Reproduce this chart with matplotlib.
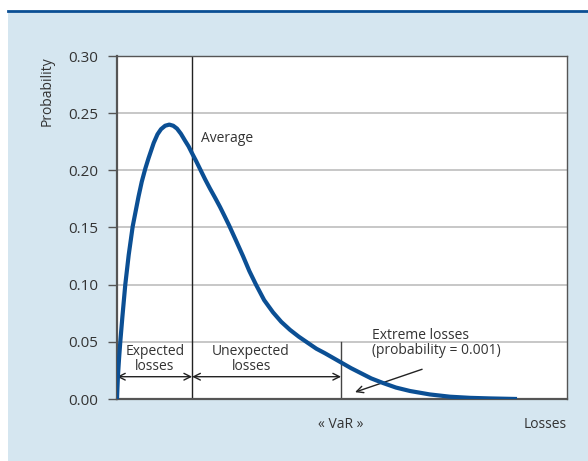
import matplotlib.pyplot as plt
from matplotlib.patches import Rectangle
from matplotlib.lines import Line2D

plt.rcParams['font.family'] = ['Open Sans', 'DejaVu Sans']

# loss distribution (x in arbitrary loss units)
losses = [0, 0.1, 0.22, 0.45, 0.73, 1.2, 1.84, 2.6, 3.49, 4.78, 5.5, 6.29, 7.0,
          8.16, 9.0, 9.78, 10.7, 11.62, 12.5, 13.33, 14.2, 15.11, 15.9, 16.67,
          17.6, 18.6, 19.6, 20.67, 21.8, 22.89, 23.9, 24.89, 26.4, 28.0, 29.4,
          30.89, 32.7, 34.67, 36.5, 38.44, 40.4, 42.44, 44.3, 46.22, 48.0, 49.78,
          52.0, 54.0, 56.5, 59.11, 62.0, 65.11, 69.5, 74.0, 78.5, 82.89, 88.89]
prob = [0, 0.010, 0.021, 0.035, 0.050, 0.072, 0.100, 0.126, 0.151, 0.177, 0.190, 0.2015, 0.2105,
        0.224, 0.2315, 0.236, 0.239, 0.240, 0.239, 0.2365, 0.232, 0.226, 0.221, 0.215,
        0.208, 0.200, 0.192, 0.184, 0.176, 0.168, 0.160, 0.152, 0.139, 0.125, 0.112,
        0.100, 0.0865, 0.0758, 0.0675, 0.0605, 0.0545, 0.049, 0.044, 0.040, 0.036, 0.032,
        0.027, 0.023, 0.018, 0.014, 0.010, 0.007, 0.004, 0.002, 0.001, 0.0005, 0.0]
average = 16.7
var = 49.8
yticks = [0.00, 0.05, 0.10, 0.15, 0.20, 0.25, 0.30]

blue = '#0b4f94'
bg = '#d5e6f0'

fig = plt.figure(figsize=(5.88, 4.61), dpi=100)
fig.patch.set_facecolor('white')
fig.patches.append(Rectangle((8/588, 0), 1, 450/461, transform=fig.transFigure,
                             facecolor=bg, edgecolor='none', zorder=-10))
fig.lines.append(Line2D([8/588, 1], [450/461, 450/461], transform=fig.transFigure,
                        color='#0b4f94', lw=2))

ax = fig.add_axes([117/588, 62/461, 450/588, 343/461])
ax.set_facecolor('white')
ax.set_xlim(0, 100)
ax.set_ylim(0, 0.30)
ax.set_yticks(yticks)
ax.set_yticklabels(['%.2f' % v for v in yticks], fontsize=11, color='#333333')
ax.set_xticks([])
ax.tick_params(axis='y', length=6.5, width=1, color='#555555', pad=7)
ax.grid(axis='y', color='#bdbdbd', lw=1.2)
ax.set_axisbelow(True)
for s in ['left', 'bottom']:
    ax.spines[s].set_color('#555555')
    ax.spines[s].set_linewidth(1.6)
for s in ['top', 'right']:
    ax.spines[s].set_color('#555555')
    ax.spines[s].set_linewidth(1.0)

# average and VaR markers
ax.plot([average, average], [0, 0.30], color='#222222', lw=1)
ax.plot([var, var], [0, 0.05], color='#444444', lw=1)

ax.plot(losses, prob, color=blue, lw=3, solid_capstyle='butt',
        solid_joinstyle='round', zorder=5)

# expected / unexpected arrows
arr = dict(arrowstyle='<->', color='#222222', lw=1, mutation_scale=12,
           shrinkA=0, shrinkB=0)
ax.annotate('', xy=(0, 0.0195), xytext=(average, 0.0195), arrowprops=arr)
ax.annotate('', xy=(average, 0.0195), xytext=(var, 0.0195), arrowprops=arr)

txt = dict(fontsize=10, color='#333333', linespacing=1.05)
ax.text(8.4, 0.035, 'Expected\nlosses', ha='center', va='center', **txt)
ax.text(29.8, 0.035, 'Unexpected\nlosses', ha='center', va='center', **txt)
ax.text(18.7, 0.228, 'Average', ha='left', va='center', **txt)
ax.text(56.7, 0.049, 'Extreme losses\n(probability = 0.001)', ha='left', va='center', **txt)
ax.annotate('', xy=(52.9, 0.006), xytext=(67.8, 0.026),
            arrowprops=dict(arrowstyle='->', color='#222222', lw=1, mutation_scale=12,
                            shrinkA=0, shrinkB=0))

ax.text(var, -0.022, '« VaR »', ha='center', va='center', clip_on=False, **txt)
ax.text(100, -0.022, 'Losses', ha='right', va='center', clip_on=False, **txt)
ax.text(-0.155, 1.0, 'Probability', rotation=90, ha='center', va='top',
        transform=ax.transAxes, **txt)

fig.savefig('out.png', dpi=100, facecolor=fig.get_facecolor())
